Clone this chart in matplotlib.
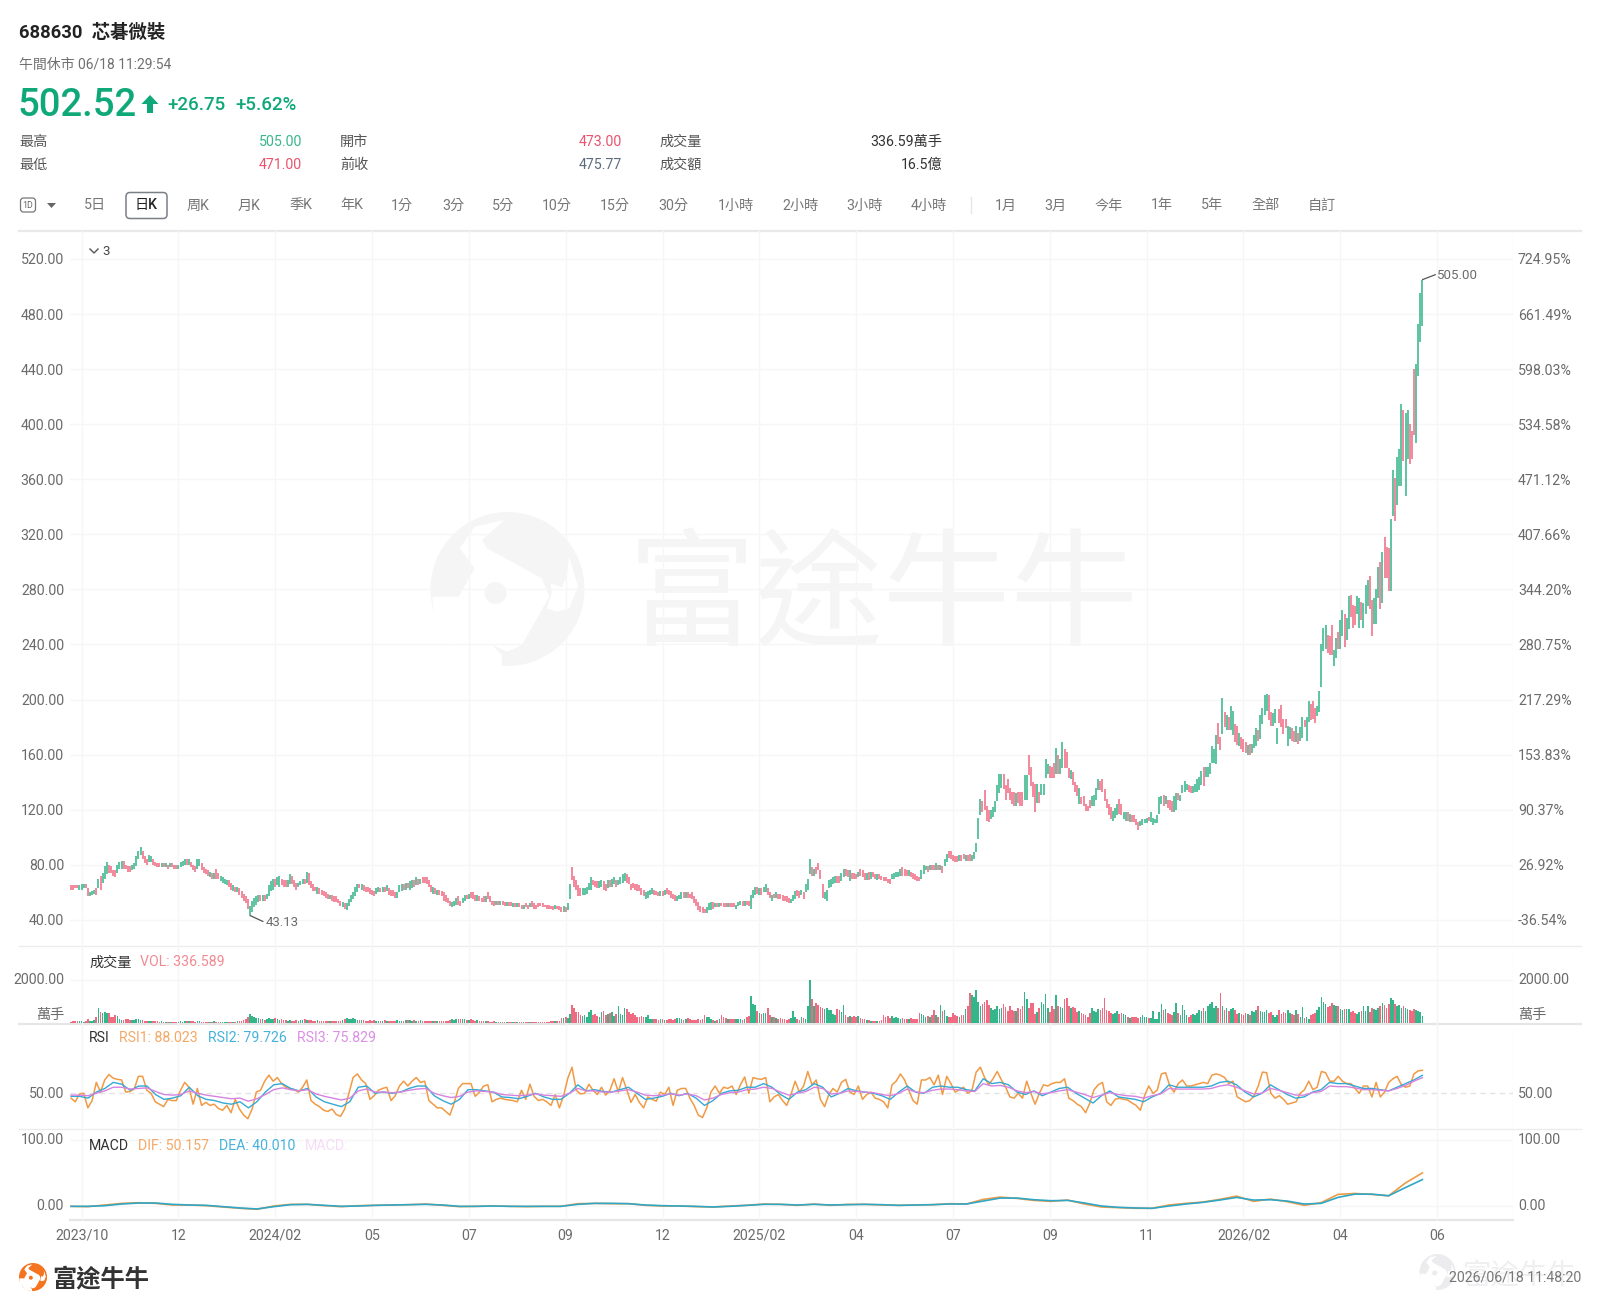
import numpy as np
import matplotlib
matplotlib.use("Agg")
import matplotlib.pyplot as plt
from matplotlib.patches import Circle, Ellipse, FancyBboxPatch, Polygon

plt.rcParams["font.family"] = ["Roboto", "Noto Sans CJK TC", "DejaVu Sans"]

# daily range of every session, oldest first
bar_low = [
    62,62,63,63,62,62,63,63,57,57,58,59,58,63,62,67,70,73,74,74,
    72,71,74,77,77,77,77,75,75,76,77,79,84,87,84,81,80,82,82,80,
    79,78,78,78,78,78,77,78,78,77,77,77,78,79,80,80,80,78,76,75,
    77,79,76,74,73,72,71,70,70,70,70,68,67,66,65,64,62,61,60,60,
    58,56,54,52,48,43.13,46,49,51,53,54,54,54,55,57,61,62,64,65,64,
    65,64,64,64,66,66,64,62,64,65,66,66,67,65,63,61,61,59,59,58,
    57,56,55,55,54,53,53,52,50,49,48,47,50,53,55,57,60,63,62,61,
    60,60,59,58,57,59,60,60,60,60,61,58,57,57,56,56,60,61,62,62,
    63,62,63,64,65,65,66,67,67,66,64,60,59,59,58,58,57,54,53,52,
    50,49,50,51,51,50,52,54,55,55,56,55,54,54,54,53,53,53,55,53,
    51,50,51,51,51,51,50,50,50,50,49,49,49,49,48,48,49,48,49,49,
    48,48,49,50,49,49,48,48,48,47,48,48,47,46,45.6,46,47,55,69,64,
    62,57,57,58,58,59,62,62,65,64,63,63,64,62,61,63,64,64,66,64,
    65,66,67,68,67,66,62,63,62,61,61,58,57,55,56,58,59,58,58,57,
    57,57,58,59,58,56,55,54,54,55,55,56,56,56,56,55,52,50,47,46,
    45,45,45,47,47,48,49,49,49,50,49,49,49,49,49,49,48,50,51,50,
    50,51,50,48,56,58,59,58,58,60,60,58,56,54,56,56,55,55,54,54,
    53,52,52,54,55,57,56,58,55,60,62,73,72,72,73,76,70,56,55,54,
    63,64,66,67,67,67,68,71,72,71,68,70,70,70,71,72,71,69,69,69,
    70,71,70,69,70,69,68,68,67,66,70,70,71,71,72,72,72,72,72,71,
    70,69,68,68,70,73,76,75,76,76,76,76,76,76,74,79,82,85,84,83,
    82,82,83,83,84,83,83,83,83,84,89,99,116,118,120,112,111,113,115,118,
    126,132,136,135,127,132,127,124,123,123,125,123,123,127,127,145,137,129,118,125,
    125,131,131,143,146,143,143,143,146,146,146,150,150,150,143,142,138,133,130,124,
    124,123,119,119,121,123,123,127,134,134,133,126,121,116,113,112,114,116,117,116,
    113,112,112,111,111,111,109,105,108,109,110,110,112,111,109,110,110,117,124,123,
    124,121,120,118,118,120,127,126,132,133,134,133,132,132,133,133,134,138,137,144,
    144,146,154,154,153,168,163,175,180,178,178,178,174,169,167,166,164,162,161,160,
    160,161,165,166,170,171,182,189,192,185,181,181,183,168,183,180,175,179,166,171,
    170,169,169,168,170,172,180,170,184,185,186,183,188,191,209,235,237,234,232,232,
    224,230,237,237,246,238,243,251,260,252,254,262,252,258,252,262,268,266,246,255,
    255,274,266,270,288,288,279,279,333,330,341,355,355,373,348,375,371,375,392,386,
    435,460,471,
]
bar_high = [
    65,65,65,65,65,66,66,66,63,60,61,62,63,70,72,74,79,82,80,79,
    76,76,80,82,83,83,80,79,79,80,81,86,90,93,90,86,84,87,86,84,
    82,81,81,81,81,81,80,81,81,80,80,80,82,83,84,84,84,82,80,79,
    84,84,81,78,77,76,75,74,74,77,74,72,71,70,69,69,67,65,64,64,
    63,61,59,57,55,50,54,56,57,58,58,58,58,59,65,68,70,70,71,72,
    70,69,69,69,73,72,69,67,67,68,70,70,75,74,68,66,64,64,63,62,
    61,60,59,58,58,57,57,55,54,53,52,52,55,58,60,64,66,66,66,65,
    64,64,63,62,61,63,64,63,64,64,65,63,62,62,60,60,65,66,66,67,
    67,68,69,69,71,70,70,71,71,71,69,65,64,63,62,62,61,60,58,56,
    54,53,54,56,57,54,56,58,58,59,60,60,58,58,57,56,57,57,60,57,
    54,54,54,54,54,54,53,53,53,53,52,52,52,52,51,51,52,51,52,54,
    52,51,52,52,52,51,51,51,50,50,51,50,50,49,50,49,52,66,78,72,
    69,65,63,63,63,64,67,71,69,68,68,68,69,68,66,69,69,70,71,69,
    69,71,73,74,73,71,66,67,66,66,65,63,62,60,61,62,63,62,61,60,
    61,61,62,63,62,61,59,58,57,58,60,60,60,60,59,60,57,55,53,50,
    49,48,49,52,53,53,52,52,52,52,52,52,52,52,52,52,51,53,54,54,
    54,54,54,58,62,64,64,63,63,64,66,63,60,58,59,60,59,59,58,57,
    57,56,55,58,61,62,61,62,60,66,70,84,78,77,78,81,76,66,60,62,
    69,70,71,72,72,72,74,77,77,76,76,74,74,73,75,77,76,74,74,75,
    75,75,73,73,73,72,71,71,70,70,73,74,75,75,77,78,77,76,76,75,
    74,73,72,71,76,80,79,79,80,80,80,81,80,80,79,84,88,90,90,87,
    86,86,87,87,88,87,87,88,87,89,96,114,128,126,134,123,120,120,122,126,
    138,146,146,146,138,142,136,133,133,132,133,133,133,145,145,160,151,140,139,139,
    133,139,139,157,153,152,151,154,165,160,157,169,164,162,150,149,147,140,138,136,
    129,130,124,123,127,130,131,136,142,141,142,135,128,124,122,119,121,124,128,124,
    118,118,118,117,116,116,113,111,112,113,113,114,115,118,114,113,116,129,130,131,
    130,127,127,126,130,132,132,131,138,141,139,138,137,137,139,142,144,148,151,151,
    151,154,166,164,174,183,173,201,191,189,187,195,192,182,181,176,173,171,169,167,
    168,168,174,179,178,189,194,203,204,203,191,190,193,179,193,196,186,186,181,180,
    179,177,181,176,180,187,185,187,199,197,199,194,195,206,240,252,254,247,246,254,
    236,245,249,258,265,262,259,275,276,269,268,275,274,271,270,283,287,290,272,274,
    280,296,300,307,318,311,310,331,367,361,376,382,415,410,408,410,400,395,440,444,
    473,495,505,
]
# u = closed up, d = closed down, five sessions to a group
bar_dir = """
ddddu uuddu uudud uuudd
dduuu ddddu uuuud dduud
dddud ududd duuuu duddd
uuddd dudud duuuu ddudu
ddddd uuuuu duduu uuduu
ddduu ddduu ududd ddudd
dddud ddddu duuuu uudud
ddddd uudud udddd uuudu
duudu duddd ddudu ddddd
duuud duudu dddud ddudd
ddudu ddudd ududd uddud
ddddd ddddd udddu duudd
ddduu uuudd duudd uduud
uuuud ddddd ddduu uuddd
ududd ddduu ududd ddddd
dduuu dudud ddudd duuud
udduu ududu uddud udddd
dduuu ddudu uudud ddduu
uuuud duudd udddu dddud
uddud ddddd uuuuu dddud
ddddu uudud dudud uuddd
ddudd udduu uuudd dduuu
uuudd ddddu ddduu ddddu
duuuu dddud uuddd udddu
ddddd uuuud ddddd uuudd
uudud ddduu uuduu uuuud
udddu uduuu udduu uuudu
uuuuu ddudu duudd udddu
duuud uuuud duuud ddduu
ddudu uduud dduuu uuddd
uuduu duudd duudu uuddu
uudud dduud uuudu udddu
uuu
"""

# volume in 10k lots, same sessions
volume = [
    60,90,110,80,70,100,60,80,170,90,110,130,260,720,530,470,500,470,450,300,
    280,350,320,200,150,140,180,170,130,120,160,200,180,150,130,110,100,90,100,80,
    70,90,60,70,60,50,50,60,60,50,40,60,70,60,80,90,110,100,70,60,
    70,80,50,60,50,40,60,50,70,50,40,60,50,50,40,60,50,60,60,90,
    100,110,120,200,260,440,330,280,250,240,180,170,150,190,220,200,180,240,180,160,
    180,120,140,100,150,110,90,130,100,140,130,180,160,120,130,100,90,120,100,110,
    90,110,100,80,100,70,90,70,110,160,190,210,180,200,210,170,150,130,150,120,
    110,100,120,90,130,100,80,100,110,130,100,90,70,90,90,120,100,110,100,130,
    120,140,110,130,110,90,120,100,90,100,80,90,70,100,80,90,80,100,90,110,
    150,190,140,170,200,170,180,190,150,130,170,150,110,130,100,80,90,70,100,60,
    50,70,60,50,60,40,50,60,40,50,40,50,60,50,40,50,40,60,50,40,
    50,40,60,40,50,50,60,50,90,110,90,100,110,240,230,260,220,420,860,700,
    500,490,350,340,360,300,530,600,360,400,340,300,500,550,380,400,450,520,320,420,
    800,400,350,700,650,500,430,480,360,300,280,330,300,280,350,200,180,190,170,160,
    180,170,150,160,170,180,150,200,240,220,180,160,170,210,170,150,140,160,180,150,
    200,350,300,260,180,120,110,130,180,350,300,220,190,180,170,200,180,190,170,160,
    200,300,340,1250,900,820,550,450,400,480,450,700,350,280,300,250,200,210,190,170,
    160,170,230,550,260,190,140,300,220,170,800,2000,1100,800,950,850,750,700,650,680,
    620,600,420,350,650,600,500,850,350,300,320,280,340,300,320,220,180,190,130,150,
    110,100,100,80,90,130,350,280,320,250,330,240,300,240,200,220,180,170,190,250,
    180,190,180,450,430,350,300,320,280,350,600,350,300,850,550,600,330,300,280,450,
    350,320,300,380,350,650,800,1400,1300,1200,1550,1000,800,900,1000,1050,850,700,600,650,
    800,650,700,900,750,550,800,600,550,560,700,650,800,1450,1100,700,950,950,400,520,
    700,1000,900,1350,700,500,800,650,1300,800,750,700,1100,1150,800,700,750,700,500,550,
    450,400,350,300,450,700,550,500,650,600,700,1150,600,550,450,400,450,550,400,450,
    400,350,300,250,280,300,260,220,300,350,280,300,250,230,550,200,200,500,900,600,
    650,450,400,350,500,950,450,350,850,600,350,300,350,400,350,450,600,550,700,550,
    800,900,1000,700,800,700,1400,800,600,700,550,650,700,600,400,450,400,350,450,400,
    350,550,500,600,800,550,500,500,600,450,500,350,300,350,600,400,500,450,600,450,
    400,350,600,400,300,750,250,300,200,350,400,450,600,750,1200,1000,900,750,800,950,
    850,800,800,650,600,650,650,650,500,550,450,400,500,550,800,550,800,500,700,650,
    600,700,800,950,850,700,900,1150,1050,900,800,850,700,800,700,650,600,550,650,600,
    550,500,336.589,
]

# RSI readings every second session, the slower two every fourth
rsi1 = [
    42,36,49,50,26,38,68,52,72,81,75,73,72,52,53,57,78,78,55,50,36,32,28,40,38,38,55,68,60,32,
    58,30,35,30,32,25,22,30,18,40,24,14,8,24,52,55,70,80,70,76,66,60,58,56,52,60,72,38,32,28,
    22,20,24,15,12,24,50,76,82,72,66,40,46,55,58,60,38,46,62,70,62,70,76,68,70,38,32,26,26,20,
    14,34,58,66,66,66,45,52,62,64,36,40,42,40,39,38,36,55,40,65,45,38,40,36,30,48,26,46,75,93,
    55,49,50,65,55,48,60,47,55,74,52,76,56,35,48,35,26,44,40,37,52,48,60,30,55,58,58,42,30,14,
    10,26,52,62,50,60,58,62,48,64,77,50,76,74,73,76,36,44,48,38,30,48,70,52,62,86,64,72,40,28,
    48,58,52,68,73,52,48,62,40,48,52,42,40,36,26,64,70,82,72,55,38,32,72,72,76,64,80,48,78,66,
    52,56,60,50,55,85,93,76,64,74,86,72,60,44,42,50,42,70,50,32,50,64,62,66,68,68,74,42,38,32,
    28,18,34,56,64,68,36,30,40,42,40,39,34,30,22,46,62,50,55,82,84,62,52,66,72,62,62,64,66,68,
    66,80,82,80,76,66,70,44,40,36,38,46,62,85,84,50,42,46,40,32,34,36,50,56,70,56,60,86,84,70,
    70,78,70,66,66,58,50,62,62,44,68,44,52,68,74,78,64,60,62,82,87,88.023,
]
rsi2 = [
    45,45,42,52,58,68,65,55,62,62,48,40,42,46,60,46,40,38,34,32,36,26,36,52,64,66,58,54,58,44,
    36,32,28,36,60,62,50,52,50,52,58,62,62,46,38,32,40,56,56,54,52,44,43,41,45,50,44,40,40,50,
    64,54,56,53,52,56,60,50,40,42,45,50,46,50,42,30,38,50,54,55,60,60,66,60,48,40,52,56,66,60,
    44,50,58,54,52,50,46,40,52,62,52,50,60,62,60,60,56,54,74,66,68,64,52,48,54,46,52,58,60,50,
    42,34,46,54,44,42,40,36,44,50,64,60,60,60,60,62,68,70,64,52,44,50,64,56,48,42,44,52,56,68,
    66,66,62,58,58,56,54,60,66,72,79.726,
]
rsi3 = [
    47,47,46,50,54,60,60,57,58,59,53,48,47,48,54,50,47,45,43,41,42,37,41,48,56,59,56,54,56,49,
    45,42,39,42,54,57,52,52,51,52,55,57,58,50,46,43,45,52,54,53,52,48,47,46,47,49,47,46,45,50,
    58,54,54,52,52,54,56,52,47,46,47,49,47,49,46,39,42,48,51,52,56,57,60,58,52,47,50,53,60,58,
    49,50,54,53,52,51,48,46,50,57,52,51,55,57,57,56,54,53,66,62,63,60,54,51,53,49,51,54,56,52,
    48,43,47,51,48,46,45,42,46,49,58,57,57,57,57,58,62,64,60,54,49,50,58,55,51,47,47,51,53,62,
    61,61,59,56,56,55,54,58,63,70,75.829,
]

# MACD lines every eighth session
dif = [
    -0.5,-1,1.5,4,5,4,1.5,1.5,0.5,-1.5,-3.5,-5,0,2.5,2.5,0.5,-1,0.5,1,1.5,2,3,1,-1,-0.5,0,
    -0.5,-1,-0.5,-0.5,3.5,4,3.5,3.5,1,0,0,-1,-1.5,0,1,3,2.5,1,3,1,2.5,2.5,1.5,1,1.5,2,3.5,3,
    10,13.5,11.5,8.5,7,9,3,-1.5,-2.5,-3.5,-3.5,1.5,4,6,10,15,7,10.5,6.5,1,5,17.5,19,17.5,15.5,35,50.157,
]
dea = [
    -0.5,-0.5,0.5,3,4.5,4.5,2.5,1.5,1,-1,-3,-4.5,-1,2,2.5,1,-0.5,0,1,1.5,2,2.5,1.5,-0.5,-0.5,0,
    -0.5,-0.5,-0.5,-0.5,2.5,4,4,3.5,1.5,0.5,0,-0.5,-1.5,-0.5,1,2.5,2.5,1.5,2.5,1.5,2,2.5,2,1,1.5,2,3,3,
    7.5,12,12,9.5,8,8.5,4.5,0,-2,-3,-3.5,0,3,5.5,9,13,9,9.5,7.5,3,4,13,18,18,15.5,28,40.01,
]

price_ticks = [520, 480, 440, 400, 360, 320, 280, 240, 200, 160, 120, 80, 40]
pct_ticks = ["724.95%", "661.49%", "598.03%", "534.58%", "471.12%", "407.66%", "344.20%",
             "280.75%", "217.29%", "153.83%", "90.37%", "26.92%", "-36.54%"]
date_bars = [5, 51, 97, 143, 189, 235, 281, 327, 373, 419, 465, 511, 557, 603, 649]
date_labels = ["2023/10", "12", "2024/02", "05", "07", "09", "12", "2025/02",
               "04", "07", "09", "11", "2026/02", "04", "06"]
period_tabs = ["5日", "日K", "周K", "月K", "季K", "年K", "1分", "3分", "5分", "10分", "15分",
               "30分", "1小時", "2小時", "3小時", "4小時"]
period_x = [95, 146, 198, 249, 301, 352, 402, 453, 503, 557, 615, 673, 736, 800, 864, 929]
range_tabs = ["1月", "3月", "今年", "1年", "5年", "全部", "自訂"]
range_x = [1006, 1055, 1109, 1162, 1212, 1266, 1322]

GREEN = "#35b58a"
RED = "#ee6b82"
GRID = "#f6f6f7"
TEXT = "#6b6b6b"
DARK = "#222222"
W, H = 1600, 1308
N_LAST = 642
BAR_PX = 2.105

fig = plt.figure(figsize=(W / 100, H / 100), dpi=100, facecolor="white")

# bottom layer in pixel units for watermark and toolbar shapes
bg = fig.add_axes([0, 0, 1, 1], zorder=0)
bg.set_xlim(0, W)
bg.set_ylim(H, 0)
bg.axis("off")

# top layer in pixel units so labels sit above the panel grids
fg = fig.add_axes([0, 0, 1, 1], zorder=10)
fg.set_xlim(0, W)
fg.set_ylim(H, 0)
fg.axis("off")
fg.patch.set_alpha(0)


def label(x, y, s, color=TEXT, size=10.2, ha="left", weight="normal"):
    fg.text(x, y + 1.5, s, color=color, fontsize=size, ha=ha, va="center", fontweight=weight)


def draw_logo(cx, cy, r, color):
    # round head with the cut-outs of the brand mark
    k = r / 77.0
    bg.add_patch(Circle((cx, cy), r, fc=color, ec="none", zorder=1))
    head = [(65, 350), (118, 350), (150, 265), (120, 205), (150, 140), (210, 120), (165, 180),
            (175, 205), (285, 295), (300, 350), (245, 495), (215, 515), (185, 495), (205, 525),
            (205, 565), (130, 530), (70, 430)]
    ear = [(340, 230), (358, 320), (340, 385), (315, 395), (295, 385), (305, 340), (303, 310),
           (325, 322), (335, 290)]
    for pts in (head, ear):
        xy = [(cx + (px / 2.01 + 400 - 507.5) * k, cy + (py / 3 + 480 - 589) * k) for px, py in pts]
        bg.add_patch(Polygon(xy, fc="white", ec="none", zorder=1.1))
    bg.add_patch(Ellipse((cx - 12 * k, cy + 4 * k), 22 * k, 22 * k, fc=color, ec="none", zorder=1.2))


# watermark
draw_logo(507.5, 589, 77, "#f5f5f6")
bg.text(883, 601, "富途牛牛", fontsize=92, color="#f5f5f6", ha="center", va="center",
        fontweight="medium", zorder=1)

# header
label(19, 31.5, "688630  芯碁微裝", DARK, 13.2, weight="semibold")
label(19, 63, "午間休市 06/18 11:29:54", "#707070", 10)
label(17, 104, "502.52", "#0fa878", 27.5, weight="medium")
bg.add_patch(Polygon([(150, 95), (158.5, 104), (153, 104), (153, 113), (147, 113), (147, 104), (141.5, 104)],
                     fc="#0fa878", ec="none"))
label(167, 103.5, "+26.75", "#0fa878", 13.5, weight="medium")
label(235, 103.5, "+5.62%", "#0fa878", 13.5, weight="medium")

label(19, 140.5, "最高", "#555555")
label(302, 140.5, f"{max(bar_high):.2f}", "#3bb58c", ha="right")
label(340, 140.5, "開市", "#555555")
label(622, 140.5, "473.00", "#e8536e", ha="right")
label(659, 140.5, "成交量", "#555555")
label(942, 140.5, "336.59萬手", "#333333", ha="right")
label(19, 163.5, "最低", "#555555")
label(302, 163.5, f"{bar_low[-1]:.2f}", "#e8536e", ha="right")
label(340, 163.5, "前收", "#555555")
label(622, 163.5, "475.77", "#5d6b7c", ha="right")
label(659, 163.5, "成交額", "#555555")
label(942, 163.5, "16.5億", "#333333", ha="right")

# period toolbar
bg.add_patch(FancyBboxPatch((20.5, 198), 15, 14, boxstyle="round,pad=0,rounding_size=3",
                            fc="white", ec="#777777", lw=0.9))
label(28, 204, "1D", "#666666", 6.3, ha="center")
bg.add_patch(Polygon([(47, 203), (56, 203), (51.5, 208)], fc="#666666", ec="none"))
bg.add_patch(FancyBboxPatch((126, 192.5), 41, 26, boxstyle="round,pad=0,rounding_size=4",
                            fc="white", ec="#7a8088", lw=1.1))
for tab, px in zip(period_tabs, period_x):
    label(px, 204, tab, DARK if tab == "日K" else "#777777", 10.2, ha="center",
          weight="medium" if tab == "日K" else "normal")
bg.plot([971, 971], [197, 213], color="#e6e6e6", lw=1)
for tab, px in zip(range_tabs, range_x):
    label(px, 204, tab, "#777777", 10.2, ha="center")

# panel separators
bg.plot([19, 1581], [231, 231], color="#e9e9e9", lw=1.6)
bg.plot([19, 1581], [946, 946], color="#ececec", lw=1)
bg.plot([19, 1581], [1024, 1024], color="#e6e6e6", lw=1.6)
bg.plot([19, 1581], [1129, 1129], color="#ececec", lw=1)
bg.plot([70, 1513], [1220, 1220], color="#e6e6e6", lw=1.6)


def panel(top, bottom, v1, p1, v2, p2):
    ax = fig.add_axes([70 / W, 1 - bottom / H, (1513 - 70) / W, (bottom - top) / H], zorder=5)
    ax.patch.set_alpha(0)
    ax.set_xlim(-0.5, (1513 - 71) / BAR_PX)
    slope = (v1 - v2) / (p2 - p1)
    ax.set_ylim(v2 - (bottom - p2) * slope, v1 + (p1 - top) * slope)
    ax.set_xticks([])
    ax.set_yticks([])
    for spine in ax.spines.values():
        spine.set_visible(False)
    for b in date_bars:
        ax.axvline(b, color=GRID, lw=1, zorder=1)
    ax.axvline((1512.5 - 71) / BAR_PX, color=GRID, lw=1, zorder=1)
    return ax


def session_x(values):
    return np.linspace(0, N_LAST, len(values))


bar_colors = [GREEN if d == "u" else RED for d in "".join(bar_dir.split())]

# price panel
ax_price = panel(231, 946, 520, 259, 40, 919.8)
for p in price_ticks:
    ax_price.axhline(p, color=GRID, lw=1, zorder=1)
ax_price.vlines(session_x(bar_low), bar_low, bar_high, colors=bar_colors,
                lw=1.25, alpha=0.9, capstyle="butt", zorder=3)
for p, pct in zip(price_ticks, pct_ticks):
    py = 919.8 - (p - 40) * (919.8 - 259) / 480
    label(64, py, f"{p:.2f}", ha="right")
    label(1518, py, pct)

# leaders to the extreme prices
top_i = int(np.argmax(bar_high))
low_i = int(np.argmin(bar_low))
line_style = dict(arrowstyle="-", color="#555555", lw=0.9, shrinkA=0, shrinkB=0)
ax_price.annotate("", xy=(top_i, bar_high[top_i]), xytext=(13, 5),
                  textcoords="offset pixels", arrowprops=line_style)
ax_price.annotate(f"{bar_high[top_i]:.2f}", xy=(top_i, bar_high[top_i]), xytext=(15, 4),
                  textcoords="offset pixels", color=TEXT, fontsize=9.5, va="center")
ax_price.annotate("", xy=(low_i, bar_low[low_i]), xytext=(13, -6),
                  textcoords="offset pixels", arrowprops=line_style)
ax_price.annotate(f"{bar_low[low_i]:.2f}", xy=(low_i, bar_low[low_i]), xytext=(16, -7),
                  textcoords="offset pixels", color=TEXT, fontsize=9.5, va="center")

# collapsed indicators marker
bg.plot([90, 94, 98], [249, 253, 249], color="#555555", lw=1)
label(102, 250, "3", "#444444", 9.5)

# volume panel
ax_vol = panel(946, 1024, 2000, 980, 0, 1023)
ax_vol.axhline(2000, color=GRID, lw=1, zorder=1)
ax_vol.bar(session_x(volume), volume, width=0.78, color=bar_colors, zorder=3)
label(89, 961, "成交量", "#333333")
label(140, 961, f"VOL: {volume[-1]:.3f}", "#f28a94")
label(64, 979, "2000.00", ha="right")
label(64, 1014, "萬手", ha="right")
label(1518, 979, "2000.00")
label(1518, 1014, "萬手")

# RSI panel
ax_rsi = panel(1024, 1129, 50, 1093.3, 0, 1123.6)
ax_rsi.axhline(50, color="#e3e3e3", lw=1, ls=(0, (4, 3)), zorder=1)
ax_rsi.plot(session_x(rsi1), rsi1, color="#f19a45", lw=1.1, zorder=3)
ax_rsi.plot(session_x(rsi2), rsi2, color="#35a9d3", lw=1.0, zorder=4)
ax_rsi.plot(session_x(rsi3), rsi3, color="#d683e0", lw=1.0, zorder=5)
label(89, 1037, "RSI", "#333333")
label(119, 1037, f"RSI1: {rsi1[-1]:.3f}", "#f4a866")
label(208, 1037, f"RSI2: {rsi2[-1]:.3f}", "#45b2dc")
label(297, 1037, f"RSI3: {rsi3[-1]:.3f}", "#db8fe4")
label(64, 1093, "50.00", ha="right")
label(1518, 1093, "50.00")

# MACD panel
ax_macd = panel(1129, 1220, 100, 1140, 0, 1206)
ax_macd.axhline(100, color=GRID, lw=1, zorder=1)
ax_macd.axhline(0, color=GRID, lw=1, zorder=1)
ax_macd.plot(session_x(dif), dif, color="#f19a45", lw=1.2, zorder=3)
ax_macd.plot(session_x(dea), dea, color="#2fa7c6", lw=1.2, zorder=4)
label(89, 1144, "MACD", "#333333")
label(138, 1144, f"DIF: {dif[-1]:.3f}", "#f4a866")
label(219, 1144, f"DEA: {dea[-1]:.3f}", "#45b2dc")
label(305, 1144, "MACD:", "#f6dcf6")
label(64, 1139, "100.00", ha="right")
label(64, 1205, "0.00", ha="right")
label(1518, 1139, "100.00")
label(1518, 1205, "0.00")

# date axis
for b, s in zip(date_bars, date_labels):
    label(71 + b * BAR_PX, 1234, s, ha="center")

# footer
draw_logo(33, 1277, 14, "#f4741f")
bg.text(101, 1279, "富途牛牛", fontsize=17.5, color="#333333", ha="center", va="center", fontweight="bold")
draw_logo(1437.5, 1272, 18, "#ececee")
bg.text(1520, 1276, "富途牛牛", fontsize=20.5, color="#efeff1", ha="center", va="center", fontweight="medium")
label(1581, 1276, "2026/06/18 11:48:20", "#777777", ha="right")

fig.savefig("out.png", dpi=100, facecolor="white")
